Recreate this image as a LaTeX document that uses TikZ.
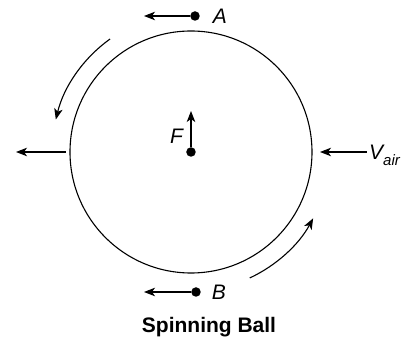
\documentclass[tikz,border=0pt]{standalone}
\usepackage{fontspec}
\setmainfont{Liberation Sans}
\usetikzlibrary{arrows.meta}

\tikzset{
  vec/.style={-{Stealth[length=11pt,width=8.5pt,inset=3pt]}, line width=1.1pt},
  spot/.style={circle, fill=black, inner sep=0pt, minimum size=9.5pt},
  lbl/.style={font=\fontsize{21}{21}\selectfont\itshape, inner sep=0pt},
}

\begin{document}
\begin{tikzpicture}[x=1pt,y=1pt]
    \useasboundingbox (-191,-187) rectangle (217,152);
    % the ball
    \node[spot] (O) at (0,0) {};
    \draw[line width=1.1pt] (O) circle[radius=121];
    \coordinate (Ftip) at (0,41);
    \draw[vec] (O) -- (Ftip);
    \node[lbl] (F) at (-14.5,16) {F};
    % points above and below
    \node[spot] (dotA) at (4,136) {};
    \coordinate (Atip) at (-47,136);
    \draw[vec] (dotA) -- (Atip);
    \node[lbl] (A) at (29,136) {A};
    \node[spot] (dotB) at (5,-140) {};
    \coordinate (Btip) at (-47,-140);
    \draw[vec] (dotB) -- (Btip);
    \node[lbl] (B) at (28,-140) {B};
    % air flow
    \coordinate (Lfrom) at (-125,0);
    \coordinate (Lto) at (-175,0);
    \draw[vec] (Lfrom) -- (Lto);
    \node[lbl, anchor=base west] (V) at (178,-8) {V\raisebox{-0.28em}{\fontsize{15}{15}\selectfont air}};
    \coordinate (Vto) at (129,0);
    \draw[vec] (V.west |- Vto) ++(-2,0) coordinate (Vfrom) -- (Vto);
    % spin
    \draw[vec] (125.6:139) arc[start angle=125.6, end angle=166.5, radius=139];
    \draw[vec] (-65:139) arc[start angle=-65, end angle=-28.5, radius=139];
    \node[font=\fontsize{21}{21}\selectfont\bfseries, anchor=base] (title) at (18,-180.7) {Spinning Ball};
\end{tikzpicture}
\end{document}
